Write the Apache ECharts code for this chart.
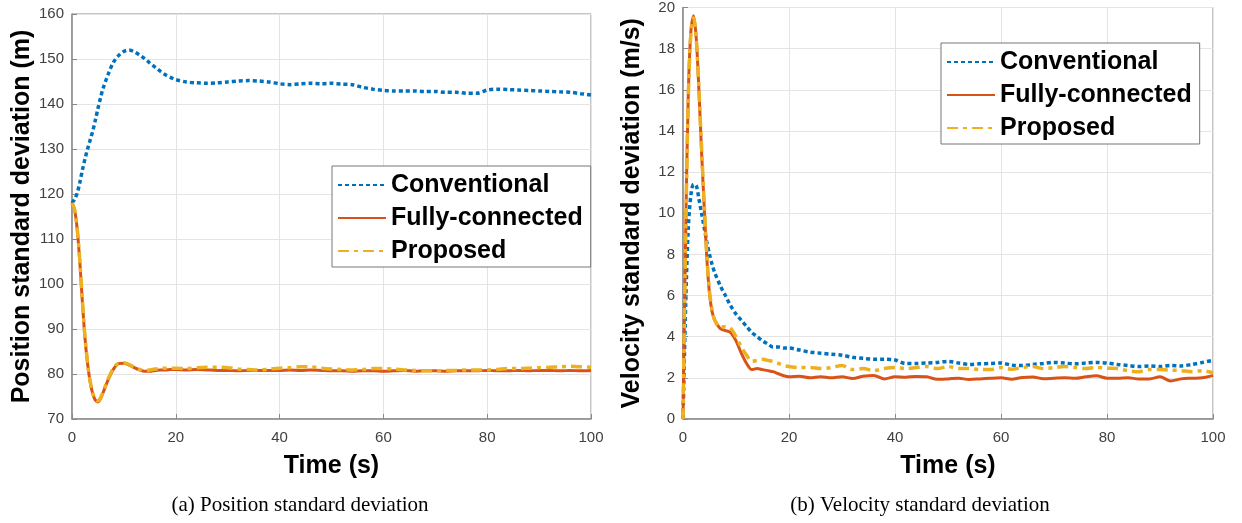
<!DOCTYPE html>
<html>
<head>
<meta charset="utf-8">
<script src="https://cdn.jsdelivr.net/npm/echarts@6/dist/echarts.min.js"></script>
<style>
html,body{margin:0;padding:0;background:#fff;}
#chart{width:1242px;height:523px;}
</style>
</head>
<body>
<div id="chart"></div>
<script>
// time samples (s)
const timeS = [0,0.5,1,1.5,2,2.5,3,3.5,4,4.5,5,5.5,6,7,8,9,10,11,12,13,14,15,16,17,18,19,20,
  22,24,26,28,30,32,34,36,38,40,42,44,46,48,50,52,54,56,58,60,62,64,66,68,70,72,74,76,78,80,82,84,86,88,90,92,94,96,98,100];

// (a) Position standard deviation (m)
const posConventional = [118,118.8,120.2,122.5,125.3,127.8,130,132,134,136.4,139,141.4,143.5,146.7,149.3,150.8,151.7,152,151.6,150.9,150.1,149.1,148.2,147.3,146.5,145.9,145.4,
  144.9,144.7,144.6,144.7,144.9,145.1,145.2,145.1,144.9,144.5,144.3,144.5,144.6,144.5,144.6,144.4,144.3,143.7,143.3,143.0,142.9,142.9,142.9,142.8,142.8,142.6,142.6,142.4,142.4,143.1,143.3,143.2,143.1,143.0,142.9,142.8,142.7,142.6,142.3,142.0];
const posFullyConnected = [118,116.5,112.2,105,96,88,82.3,78.2,75.6,74.2,73.8,74.5,75.9,78.8,81.1,82.3,82.4,82.0,81.4,80.9,80.6,80.6,80.8,80.9,80.9,81.0,81.0,
  80.9,81.0,80.9,80.8,80.8,80.7,80.8,80.8,80.8,80.8,80.9,80.8,80.9,80.8,80.7,80.7,80.6,80.7,80.7,80.6,80.7,80.8,80.6,80.7,80.7,80.6,80.7,80.7,80.7,80.8,80.7,80.7,80.8,80.7,80.8,80.8,80.7,80.8,80.7,80.8];
const posProposed = [118,116.6,112.4,105.3,96.3,88.3,82.5,78.4,75.8,74.4,74.0,74.7,76.1,79.0,81.3,82.4,82.5,82.1,81.5,81.0,80.8,80.9,81.1,81.2,81.3,81.3,81.3,
  81.2,81.4,81.5,81.5,81.4,81.1,81.0,80.9,81.1,81.3,81.4,81.6,81.6,81.3,81.1,81.0,80.9,81.0,81.2,81.2,81.1,80.9,80.8,80.7,80.7,80.8,80.8,80.9,80.9,80.9,81.0,81.2,81.2,81.3,81.4,81.5,81.6,81.7,81.6,81.5];

// (b) Velocity standard deviation (m/s)
const velConventional = [0,5.5,9.3,10.9,11.4,11.35,10.7,10.0,9.3,8.6,8.0,7.5,7.1,6.5,6.0,5.5,5.1,4.8,4.5,4.2,4.0,3.8,3.65,3.5,3.5,3.45,3.45,
  3.35,3.25,3.2,3.15,3.1,3.0,2.95,2.9,2.9,2.87,2.7,2.7,2.72,2.75,2.8,2.72,2.65,2.68,2.7,2.72,2.62,2.6,2.65,2.7,2.75,2.72,2.68,2.72,2.75,2.72,2.65,2.6,2.55,2.58,2.55,2.6,2.58,2.65,2.75,2.85];
const velFullyConnected = [0,9.0,15.8,18.9,19.6,18.5,16.0,13.0,10.3,7.8,6.1,5.2,4.8,4.4,4.3,4.2,3.8,3.2,2.7,2.4,2.45,2.4,2.35,2.3,2.2,2.1,2.05,
  2.08,2.0,2.05,2.0,2.05,1.97,2.08,2.12,1.95,2.05,2.03,2.07,2.05,1.93,1.95,1.98,1.92,1.95,1.98,2.0,1.93,2.02,2.04,1.96,1.98,2.0,1.98,2.05,2.1,1.98,1.98,2.0,1.95,1.95,2.05,1.85,1.95,1.98,2.0,2.12];
const velProposed = [0,8.8,15.6,18.8,19.5,18.5,16.1,13.2,10.5,8.0,6.2,5.3,4.8,4.45,4.5,4.4,4.0,3.5,3.1,2.8,2.85,2.9,2.85,2.8,2.7,2.6,2.55,
  2.5,2.5,2.45,2.5,2.6,2.4,2.45,2.35,2.45,2.5,2.45,2.5,2.55,2.45,2.55,2.45,2.45,2.4,2.4,2.5,2.42,2.5,2.55,2.45,2.5,2.55,2.5,2.45,2.5,2.47,2.45,2.35,2.3,2.4,2.4,2.38,2.35,2.3,2.35,2.25];

const seriesNames = ['Conventional','Fully-connected','Proposed'];
const xTicks = {min:0, max:100, interval:20};
const posTicks = {min:70, max:160, interval:10};
const velTicks = {min:0, max:20, interval:2};

const colors = ['#0072BD','#D95319','#EDB120'];
const lineTypes = [[4,3], 'solid', [11,5,4,5]];
const lineWidths = [3.5, 3, 3.5];

function pairs(vals){ return timeS.map((t,i)=>[t, vals[i]]); }

const axisGray = '#8a8a8a';
const labelStyle = {color:'#404040', fontSize:15, fontFamily:'Liberation Sans, Arial, sans-serif'};
const nameStyle = {color:'#000', fontSize:25, fontWeight:'bold', fontFamily:'Liberation Sans, Arial, sans-serif'};

function xAxis(gi){
  return {type:'value', gridIndex:gi, min:xTicks.min, max:xTicks.max, interval:xTicks.interval,
    name:'Time (s)', nameLocation:'middle', nameGap:35, nameTextStyle:nameStyle,
    axisLine:{show:true, lineStyle:{color:axisGray, width:1.5}},
    axisTick:{show:true, inside:true, length:5, lineStyle:{color:axisGray}},
    axisLabel:Object.assign({margin:11}, labelStyle),
    splitLine:{show:true, lineStyle:{color:'#e4e4e4', width:1}}};
}
function yAxis(gi, tk, name, gap){
  return {type:'value', gridIndex:gi, min:tk.min, max:tk.max, interval:tk.interval,
    name:name, nameLocation:'middle', nameGap:gap, nameRotate:90, nameTextStyle:nameStyle,
    axisLine:{show:true, lineStyle:{color:axisGray, width:1.5}},
    axisTick:{show:true, inside:true, length:5, lineStyle:{color:axisGray}},
    axisLabel:Object.assign({margin:8}, labelStyle),
    splitLine:{show:true, lineStyle:{color:'#e4e4e4', width:1}}};
}

const posData = [posConventional, posFullyConnected, posProposed];
const velData = [velConventional, velFullyConnected, velProposed];
const series = [];
[posData, velData].forEach((set, gi)=>{
  set.forEach((vals, k)=>{
    series.push({name:seriesNames[k], type:'line', xAxisIndex:gi, yAxisIndex:gi,
      data:pairs(vals), showSymbol:false, symbol:'none', smooth:0.3, animation:false,
      itemStyle:{color:colors[k]},
      lineStyle:{color:colors[k], width:lineWidths[k], type:lineTypes[k], cap:'butt'},
      z:2+k});
  });
});

function legend(left, top){
  return {orient:'vertical', left:left, top:top, data:seriesNames,
    backgroundColor:'#fff', borderColor:'#777', borderWidth:1,
    padding:[6,8,3,5], itemGap:7, itemWidth:48, itemHeight:14,
    itemStyle:{color:'rgba(0,0,0,0)', borderColor:'rgba(0,0,0,0)', borderWidth:0},
    textStyle:{color:'#000', fontSize:25, fontWeight:'bold', lineHeight:26, fontFamily:'Liberation Sans, Arial, sans-serif'},
    selectedMode:false};
}

const chart = echarts.init(document.getElementById('chart'), null, {renderer:'canvas'});
chart.setOption({
  animation:false,
  backgroundColor:'#fff',
  grid:[
    {left:72, top:14, width:519, height:405, show:true, borderColor:axisGray, borderWidth:1, backgroundColor:'#fff'},
    {left:683, top:6, width:530, height:413, show:true, borderColor:axisGray, borderWidth:1, backgroundColor:'#fff'}
  ],
  xAxis:[xAxis(0), xAxis(1)],
  yAxis:[yAxis(0, posTicks, 'Position standard deviation (m)', 34), yAxis(1, velTicks, 'Velocity standard deviation (m/s)', 38)],
  legend:[legend(332,166), legend(941,43)],
  graphic:[
    {type:'text', x:300, y:505, style:{text:'(a) Position standard deviation', textAlign:'center', textVerticalAlign:'middle', fill:'#000', font:'21px "Liberation Serif", "Times New Roman", serif'}},
    {type:'text', x:920, y:505, style:{text:'(b) Velocity standard deviation', textAlign:'center', textVerticalAlign:'middle', fill:'#000', font:'21px "Liberation Serif", "Times New Roman", serif'}}
  ],
  series:series
});
</script>
</body>
</html>
